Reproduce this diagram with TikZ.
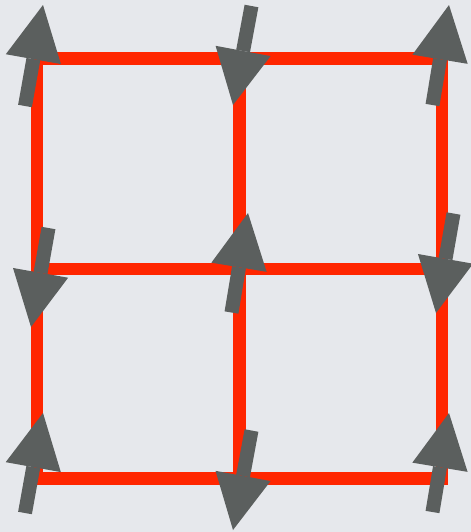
\documentclass[tikz,border=0pt]{standalone}
\usepackage{xcolor}
\usepackage{tikz}
\usetikzlibrary{arrows.meta,calc}
\definecolor{bondred}{RGB}{255,38,0}
\definecolor{spingray}{RGB}{91,95,94}
\definecolor{paper}{RGB}{230,232,236}
\tikzset{
  bond/.style={draw=bondred, line width=0.25cm},
  spin/.style={draw=spingray, line width=0.28cm,
    -{Triangle[length=1.1cm, width=1.12cm, line width=0pt]}},
  every picture/.style={line join=miter}
}

\begin{document}
\begin{tikzpicture}[x=0.02cm, y=-0.02cm]
  \fill[paper] (0,0) rectangle (471,532);
  \useasboundingbox (0,0) rectangle (471,532);
  % lattice sites
  \coordinate (v11) at (37,58.5);
  \coordinate (v12) at (239.5,58.5);
  \coordinate (v13) at (442,58.5);
  \coordinate (v21) at (37,269);
  \coordinate (v22) at (239.5,269);
  \coordinate (v23) at (442,269);
  \coordinate (v31) at (37,478.5);
  \coordinate (v32) at (239.5,478.5);
  \coordinate (v33) at (442,478.5);
  % bonds
  \draw[bond] (v11) -- (v13) -- (v33) -- (v31) -- cycle;
  \draw[bond] (v21) -- (v23);
  \draw[bond] (v12) -- (v32);
  % spins: site / tail offset / tip offset
  \foreach \site/\tx/\ty/\hx/\hy in {
      11/-12/47.5/6/-53.5, 12/12/-52.5/-6.5/46.5, 13/-9.5/46.5/7/-53.5,
      21/11.5/-41/-6/58, 22/-8/43.5/8.5/-56, 23/11.5/-55.5/-6/44,
      31/-12/34.5/6/-65.5, 32/12/-48/-6.5/51.5, 33/-9.5/33.5/7/-65.5}
    \draw[spin] ($(v\site)+(\tx,\ty)$) -- ($(v\site)+(\hx,\hy)$);
\end{tikzpicture}
\end{document}
